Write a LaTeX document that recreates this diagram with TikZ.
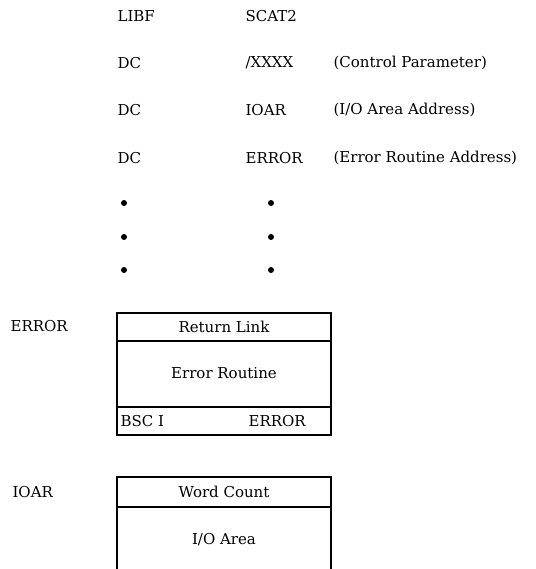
\documentclass[tikz,border=0pt]{standalone}
\usepackage{fontspec}
\setmainfont{DejaVu Serif}
\usetikzlibrary{calc}

\begin{document}
\begin{tikzpicture}[x=1pt,y=-1pt,font=\fontsize{15}{17}\selectfont,line width=1.1pt,
    txt/.style={anchor=west,inner sep=0pt},
    dot/.style={circle,fill=black,inner sep=0pt,minimum size=6pt}]
  \useasboundingbox (0,0) rectangle (535,569);
  % calling sequence
  \node[txt] (op0) at (117,16) {LIBF};
  \node[txt] (arg0) at (245,16) {SCAT2};
  \node[txt] (op1) at (117,63) {DC};
  \node[txt] (arg1) at (245,63) {/XXXX};
  \node[txt] (cm1) at (333,63) {(Control Parameter)};
  \node[txt] (op2) at (117,110) {DC};
  \node[txt] (arg2) at (245,110) {IOAR};
  \node[txt] (cm2) at (333,110) {(I/O Area Address)};
  \node[txt] (op3) at (117,158) {DC};
  \node[txt] (arg3) at (245,158) {ERROR};
  \node[txt] (cm3) at (333,158) {(Error Routine Address)};
  \foreach \y/\n in {203/a,237/b,270/c} {
    \node[dot] (ldot\n) at (124,\y) {};
    \node[dot] (rdot\n) at (271,\y) {};
  }
  % error routine
  \node[txt] (errlbl) at (10,326) {ERROR};
  \draw (117,313) rectangle (331,435);
  \draw (117,341) -- (331,341);
  \draw (117,407) -- (331,407);
  \node (retlink) at (224,327) {Return Link};
  \node (errbody) at (224,373) {Error Routine};
  \node[txt] (bsc) at (120,421) {BSC I};
  \node[txt] (bscarg) at (248,421) {ERROR};
  % i/o area
  \node[txt] (ioarlbl) at (12,492) {IOAR};
  \draw (117,569) -- (117,477) -- (331,477) -- (331,569);
  \draw (117,507) -- (331,507);
  \node (wcount) at (224,492) {Word Count};
  \node (ioarea) at (224,540) {I/O Area};
\end{tikzpicture}
\end{document}
